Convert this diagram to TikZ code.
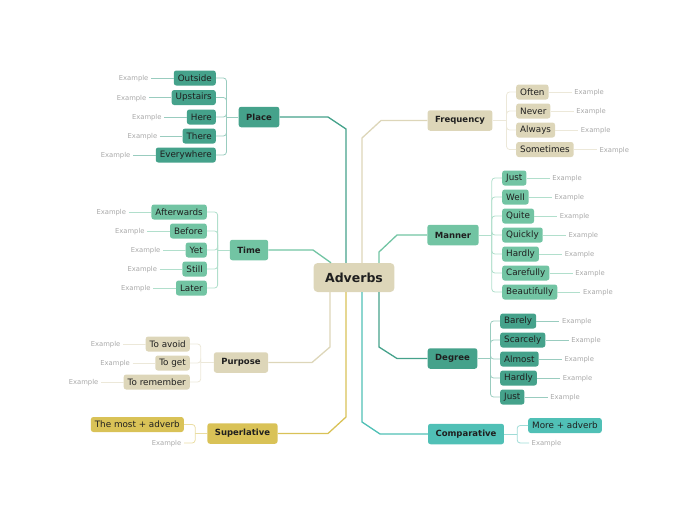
\documentclass[tikz,border=0pt]{standalone}
\usepackage{fontspec}
\setmainfont{DejaVu Sans}
\usetikzlibrary{positioning}

\definecolor{teald}{HTML}{45A28B}
\definecolor{greenm}{HTML}{72C4A3}
\definecolor{beige}{HTML}{DDD6B9}
\definecolor{gold}{HTML}{D9C257}
\definecolor{tealc}{HTML}{50C0B6}
\definecolor{exgray}{HTML}{A8A8A8}

\tikzset{
  box/.style={fill=#1, rounded corners=2.5pt, inner sep=0pt, text=black!88},
  topic/.style={box=#1, font=\fontsize{8.5}{10}\selectfont\bfseries, inner xsep=7.5pt, minimum height=20.5pt},
  kid/.style={box=#1, font=\fontsize{8.8}{10}\selectfont, inner xsep=4pt, minimum height=15pt},
  ex/.style={font=\fontsize{6.8}{8}\selectfont, text=exgray, inner sep=2.5pt, text depth=0pt},
  main/.style={draw=#1, line width=1.3pt},
  twig/.style={draw=#1!55, line width=0.8pt, rounded corners=3pt},
}

\begin{document}
\begin{tikzpicture}[x=1pt,y=-1pt]
  \useasboundingbox (0,0) rectangle (697,520);

  \node[box=beige, font=\fontsize{12.5}{14}\selectfont\bfseries, inner xsep=11.5pt, minimum height=29pt, rounded corners=4pt] (adverbs) at (354,277.5) {Adverbs};

  \node[topic=teald] (place) at (259,117) {Place};
  \node[topic=greenm] (time) at (249,250) {Time};
  \node[topic=beige] (purpose) at (241,362.5) {Purpose};
  \node[topic=gold] (superlative) at (242.5,433.5) {Superlative};
  \node[topic=beige] (frequency) at (460,120.5) {Frequency};
  \node[topic=greenm] (manner) at (453,235) {Manner};
  \node[topic=teald] (degree) at (452.5,358.5) {Degree};
  \node[topic=tealc] (comparative) at (466,434) {Comparative};

  \draw[main=teald] (place.east) -- (328,117) -- (346,129) -- ([xshift=-8pt]adverbs.north);
  \draw[main=greenm] (time.east) -- (313,250) -- ([xshift=-23pt]adverbs.north);
  \draw[main=beige] (purpose.east) -- (312,362.5) -- (330,347) -- ([xshift=-24pt]adverbs.south);
  \draw[main=gold] (superlative.east) -- (328,433.5) -- (346,417) -- ([xshift=-8pt]adverbs.south);
  \draw[main=beige] ([xshift=8pt]adverbs.north) -- (362,138) -- (381,120.5) -- (frequency.west);
  \draw[main=greenm] ([xshift=25pt]adverbs.north) -- (379,252) -- (397,235) -- (manner.west);
  \draw[main=teald] ([xshift=25pt]adverbs.south) -- (379,347) -- (397,358.5) -- (degree.west);
  \draw[main=tealc] ([xshift=8pt]adverbs.south) -- (362,422) -- (380,434) -- (comparative.west);

  \coordinate[left=12pt of place] (placej);
  \draw[twig=teald] (place.west) -- (placej);
  \foreach \n/\t/\y in {outside/Outside/78, upstairs/Upstairs/97.5, here/Here/117, there/There/136, everywhere/Everywhere/155}{
    \node[kid=teald, anchor=east] (\n) at (216,\y) {\t};
    \node[ex, left=22.5pt of \n] (\n-ex) {Example};
    \draw[twig=teald] (\n-ex) -- (\n);
    \draw[twig=teald] (placej) |- (\n.east);
  }

  \coordinate[left=12pt of time] (timej);
  \draw[twig=greenm] (time.west) -- (timej);
  \foreach \n/\t/\y in {afterwards/Afterwards/212, before/Before/231, yet/Yet/250, still/Still/269, later/Later/288}{
    \node[kid=greenm, anchor=east] (\n) at (207,\y) {\t};
    \node[ex, left=22.5pt of \n] (\n-ex) {Example};
    \draw[twig=greenm] (\n-ex) -- (\n);
    \draw[twig=greenm] (timej) |- (\n.east);
  }

  \coordinate[left=13pt of purpose] (purposej);
  \draw[twig=beige] (purpose.west) -- (purposej);
  \foreach \n/\t/\y in {toavoid/To avoid/344, toget/To get/363, toremember/To remember/382}{
    \node[kid=beige, anchor=east] (\n) at (190,\y) {\t};
    \node[ex, left=22.5pt of \n] (\n-ex) {Example};
    \draw[twig=beige] (\n-ex) -- (\n);
    \draw[twig=beige] (purposej) |- (\n.east);
  }

  \coordinate[left=12pt of superlative] (superj);
  \node[kid=gold, anchor=east] (mostadv) at (184,424.5) {The most + adverb};
  \node[ex, anchor=east] (super-ex) at (184,443) {Example};
  \draw[twig=gold] (superlative.west) -- (superj);
  \draw[twig=gold] (superj) |- (mostadv.east);
  \draw[twig=gold] (superj) |- (super-ex.east);

  \coordinate[right=14pt of frequency] (freqj);
  \draw[twig=beige] (frequency.east) -- (freqj);
  \foreach \n/\t/\y in {often/Often/92, never/Never/111, always/Always/130, sometimes/Sometimes/149.5}{
    \node[kid=beige, anchor=west] (\n) at (516,\y) {\t};
    \node[ex, right=23pt of \n] (\n-ex) {Example};
    \draw[twig=beige] (\n) -- (\n-ex);
    \draw[twig=beige] (freqj) |- (\n.west);
  }

  \coordinate[right=13pt of manner] (mannerj);
  \draw[twig=greenm] (manner.east) -- (mannerj);
  \foreach \n/\t/\y in {m-just/Just/178, well/Well/197, quite/Quite/216, quickly/Quickly/235, m-hardly/Hardly/254, carefully/Carefully/273, beautifully/Beautifully/292}{
    \node[kid=greenm, anchor=west] (\n) at (502,\y) {\t};
    \node[ex, right=23pt of \n] (\n-ex) {Example};
    \draw[twig=greenm] (\n) -- (\n-ex);
    \draw[twig=greenm] (mannerj) |- (\n.west);
  }

  \coordinate[right=13pt of degree] (degreej);
  \draw[twig=teald] (degree.east) -- (degreej);
  \foreach \n/\t/\y in {barely/Barely/321, scarcely/Scarcely/340, almost/Almost/359, d-hardly/Hardly/378, d-just/Just/397}{
    \node[kid=teald, anchor=west] (\n) at (500,\y) {\t};
    \node[ex, right=23pt of \n] (\n-ex) {Example};
    \draw[twig=teald] (\n) -- (\n-ex);
    \draw[twig=teald] (degreej) |- (\n.west);
  }

  \coordinate[right=13pt of comparative] (compj);
  \node[kid=tealc, anchor=west] (moreadv) at (528,425.5) {More + adverb};
  \node[ex, anchor=west] (comp-ex) at (529,443) {Example};
  \draw[twig=tealc] (comparative.east) -- (compj);
  \draw[twig=tealc] (compj) |- (moreadv.west);
  \draw[twig=tealc] (compj) |- (comp-ex.west);
\end{tikzpicture}
\end{document}
